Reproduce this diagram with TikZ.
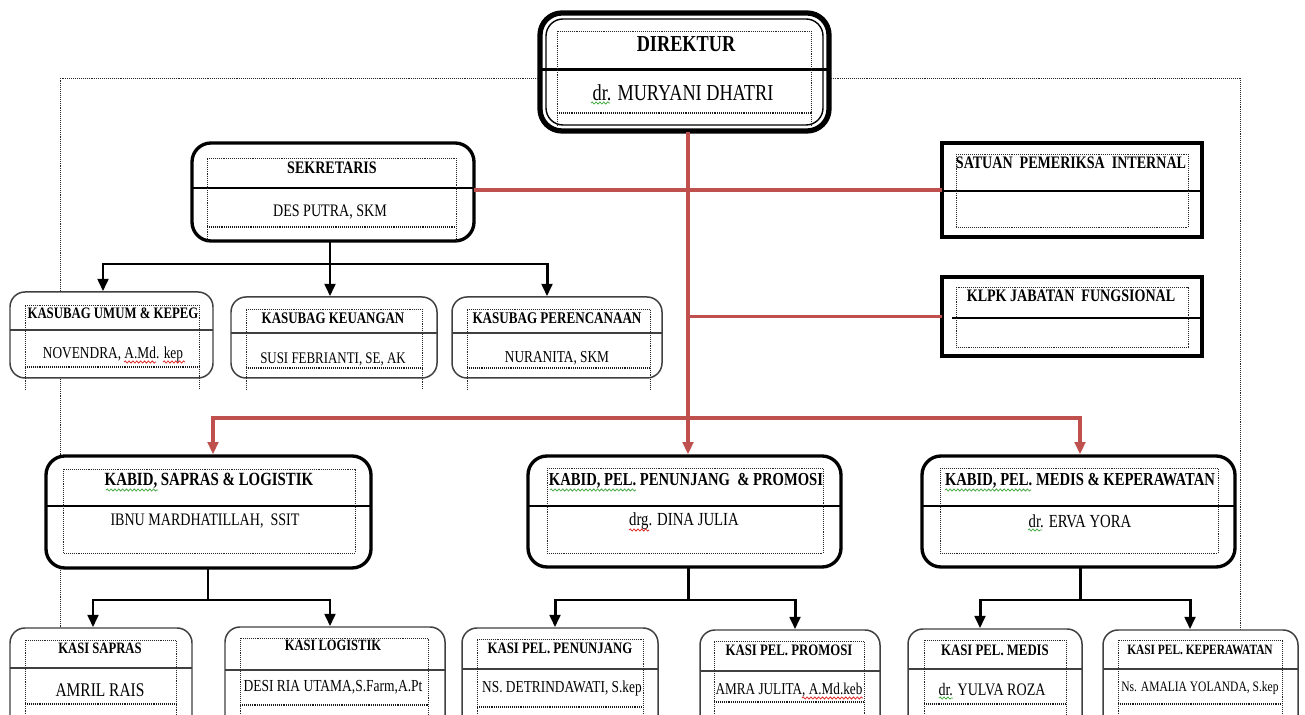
\documentclass[tikz,border=0pt]{standalone}
\usepackage{fontspec}
\setmainfont{Liberation Serif}[FakeStretch=0.8]
\usetikzlibrary{arrows.meta,fit,decorations.pathmorphing}
\definecolor{wred}{RGB}{192,80,77}
\definecolor{sqgreen}{RGB}{70,170,70}
\definecolor{sqred}{RGB}{225,40,40}
\newcommand{\fs}[1]{\fontsize{#1}{#1}\selectfont}
\begin{document}
\begin{tikzpicture}[x=0.02cm,y=-0.02cm,
  thickbox/.style={draw=black, line width=1.9pt, rounded corners=0.38cm, fill=white, inner sep=0pt},
  thinbox/.style={draw=black!75, line width=0.85pt, rounded corners=0.3cm, fill=white, inner sep=0pt},
  sqbox/.style={draw=black, line width=2.1pt, fill=white, inner sep=0pt},
  divthick/.style={draw=black, line width=1.7pt},
  divthin/.style={draw=black!75, line width=0.85pt},
  dotframe/.style={draw=black!85, line width=0.45pt, dash pattern=on 0.45pt off 0.65pt},
  heavydot/.style={draw=black!90, line width=1.4pt, dash pattern=on 0.5pt off 0.6pt},
  redline/.style={draw=wred, line width=1.9pt, line cap=rect},
  blkline/.style={draw=black, line width=1.7pt, line cap=rect},
  tip/.style={-{Triangle[length=7pt,width=6pt]}},
  lbl/.style={inner sep=0pt, anchor=center, text=black},
  ttl/.style={lbl, font=\fs{#1}\bfseries},
  nme/.style={lbl, font=\fs{#1}},
  gsq/.style={draw=sqgreen, line width=0.45pt, decorate, decoration={snake, amplitude=0.6pt, segment length=2.2pt}},
  rsq/.style={draw=sqred, line width=0.45pt, decorate, decoration={snake, amplitude=0.6pt, segment length=2.2pt}},
]
\clip (0,0) rectangle (1305,715);
\fill[white] (0,0) rectangle (1305,715);

% large dotted frame
\draw[dotframe] (60,720) -- (60,78) -- (1240,78) -- (1240,720);

% ---------------- DIREKTUR
\node[fit={(540,13) (829,131)}, draw=black, line width=3pt, rounded corners=0.44cm, fill=white, inner sep=0pt] (dir) {};
\draw[line width=0.8pt, rounded corners=0.34cm] (546,19) rectangle (823,125);
\draw[divthick] (540,70) -- (829,70);
\draw[dotframe] (557,113) -- (557,31) -- (811,31) -- (811,113);
\draw[dotframe] (557,113) -- (557,125) (811,113) -- (811,125);
\draw[heavydot] (557,113) -- (811,113);
\node[ttl=13] (tdir1) at (686,44) {DIREKTUR};
\node[nme=13] (tdir2) at (683,93) {dr. MURYANI DHATRI};
\draw[gsq] (591,103) -- (610,103);

% ---------------- SEKRETARIS
\node[thickbox, fit={(192,143) (474,241)}] (sek) {};
\draw[divthick] (192,188) -- (474,188);
\draw[dotframe] (207,241) -- (207,158) -- (456,158) -- (456,241);
\draw[heavydot] (207,227) -- (456,227);
\node[ttl=10] (tsek1) at (332,168) {SEKRETARIS};
\node[nme=10] (tsek2) at (330,212) {DES PUTRA, SKM};

% ---------------- KASUBAG
\node[thinbox, fit={(10,292) (213,378)}] (ks1) {};
\draw[divthin] (10,330) -- (213,330);
\draw[dotframe] (25,390) -- (25,305) -- (199,305) -- (199,390);
\draw[heavydot] (25,367) -- (199,367);
\node[ttl=9.1] (tks1a) at (113,313) {KASUBAG UMUM \& KEPEG};
\node[nme=9.5] (tks1b) at (113,354) {NOVENDRA, A.Md. kep};
\draw[rsq] (124,362) -- (156,362);
\draw[rsq] (163,362) -- (185,362);

\node[thinbox, fit={(231,297) (437,378)}] (ks2) {};
\draw[divthin] (231,333) -- (437,333);
\draw[dotframe] (246,390) -- (246,309) -- (422,309) -- (422,390);
\draw[heavydot] (246,368) -- (422,368);
\node[ttl=9.2] (tks2a) at (333,318) {KASUBAG KEUANGAN};
\node[nme=9.2] (tks2b) at (333,359) {SUSI FEBRIANTI, SE, AK};

\node[thinbox, fit={(452,297) (662,378)}] (ks3) {};
\draw[divthin] (452,333) -- (662,333);
\draw[dotframe] (467,390) -- (467,309) -- (650,309) -- (650,390);
\draw[heavydot] (467,368) -- (650,368);
\node[ttl=9.3] (tks3a) at (557,318) {KASUBAG PERENCANAAN};
\node[nme=9.5] (tks3b) at (557,358) {NURANITA, SKM};

% ---------------- SATUAN / KLPK
\node[sqbox, fit={(942,143) (1202,237)}] (sat) {};
\draw[divthick] (942,191) -- (1202,191);
\draw[dotframe] (956,154) rectangle (1188,227);
\node[ttl=10] (tsat) at (1071,163) {SATUAN\ \ PEMERIKSA\ \ INTERNAL};

\node[sqbox, fit={(942,277) (1202,356)}] (klpk) {};
\draw[divthick] (952,318) -- (1202,318);
\draw[dotframe] (956,287) rectangle (1188,347);
\node[ttl=10] (tklpk) at (1071,296) {KLPK JABATAN\ \ FUNGSIONAL};

% ---------------- KABID
\node[thickbox, fit={(46,456) (371,568)}] (kabL) {};
\draw[divthick] (46,506) -- (371,506);
\draw[dotframe] (63,469) rectangle (355,553);
\node[ttl=10.6] (tkl1) at (209,481) {KABID, SAPRAS \& LOGISTIK};
\node[nme=10] (tkl2) at (205,521) {IBNU MARDHATILLAH,\ \ SSIT};
\draw[gsq] (106,490) -- (158,490);

\node[thickbox, fit={(528,456) (841,567)}] (kabM) {};
\draw[divthick] (528,506) -- (841,506);
\draw[dotframe] (547,468) rectangle (823,553);
\node[ttl=10.4] (tkm1) at (686,481) {KABID, PEL. PENUNJANG\ \ \& PROMOSI};
\node[nme=10.5] (tkm2) at (684,521) {drg. DINA JULIA};
\draw[gsq] (550,490) -- (636,490);
\draw[rsq] (629,530) -- (649,530);

\node[thickbox, fit={(922,456) (1235,567)}] (kabR) {};
\draw[divthick] (922,506) -- (1235,506);
\draw[dotframe] (940,468) rectangle (1218,553);
\node[ttl=10.4] (tkr1) at (1080,481) {KABID, PEL. MEDIS \& KEPERAWATAN};
\node[nme=10.5] (tkr2) at (1080,521) {dr. ERVA YORA};
\draw[gsq] (945,490) -- (1031,490);
\draw[gsq] (1028,530) -- (1042,530);

% ---------------- KASI
\node[thinbox, fit={(10,628) (192,745)}] (k1) {};
\draw[divthin] (10,668) -- (192,668);
\draw[dotframe] (25,720) -- (25,640) -- (176,640) -- (176,720);
\draw[heavydot] (25,704) -- (176,704);
\node[ttl=9] (tk1a) at (100,648) {KASI SAPRAS};
\node[nme=11] (tk1b) at (100,690) {AMRIL RAIS};

\node[thinbox, fit={(225,627) (445,745)}] (k2) {};
\draw[divthin] (225,670) -- (445,670);
\draw[dotframe] (240,720) -- (240,638) -- (428,638) -- (428,720);
\draw[heavydot] (240,705) -- (428,705);
\node[ttl=8.9] (tk2a) at (333,645) {KASI LOGISTIK};
\node[nme=9.6] (tk2b) at (333,687) {DESI RIA UTAMA,S.Farm,A.Pt};

\node[thinbox, fit={(462,628) (658,745)}] (k3) {};
\draw[divthin] (462,669) -- (658,669);
\draw[dotframe] (477,720) -- (477,639) -- (643,639) -- (643,720);
\draw[heavydot] (477,707) -- (643,707);
\node[ttl=9.1] (tk3a) at (560,648) {KASI PEL. PENUNJANG};
\node[nme=9.5] (tk3b) at (562,688) {NS. DETRINDAWATI, S.kep};

\node[thinbox, fit={(700,630) (880,745)}] (k4) {};
\draw[divthin] (700,671) -- (880,671);
\draw[dotframe] (714,720) -- (714,641) -- (864,641) -- (864,720);
\draw[heavydot] (714,702) -- (864,702);
\node[ttl=9.1] (tk4a) at (789,650) {KASI PEL. PROMOSI};
\node[nme=9.4] (tk4b) at (789,690) {AMRA JULITA, A.Md.keb};
\draw[rsq] (802,698) -- (863,698);

\node[thinbox, fit={(908,629) (1082,745)}] (k5) {};
\draw[divthin] (908,669) -- (1082,669);
\draw[dotframe] (924,720) -- (924,640) -- (1066,640) -- (1066,720);
\draw[heavydot] (924,704) -- (1066,704);
\node[ttl=9.1] (tk5a) at (995,650) {KASI PEL. MEDIS};
\node[nme=10] (tk5b) at (992,690) {dr. YULVA ROZA};
\draw[gsq] (939,698) -- (953,698);

\node[thinbox, fit={(1103,630) (1298,745)}] (k6) {};
\draw[divthin] (1103,669) -- (1298,669);
\draw[dotframe] (1118,720) -- (1118,640) -- (1282,640) -- (1282,720);
\draw[heavydot] (1118,704) -- (1282,704);
\node[ttl=8.1] (tk6a) at (1200,650) {KASI PEL. KEPERAWATAN};
\node[nme=8.2] (tk6b) at (1200,688) {Ns. AMALIA YOLANDA, S.kep};

% ---------------- red connectors
\coordinate (jT) at (688,418);
\coordinate (jL) at (213,418);
\coordinate (jR) at (1080,418);
\draw[redline] (sek.east |- sat.west) -- (sat.west);
\draw[redline] (klpk.west -| jT) -- (klpk.west);
\draw[redline] (jL) -- (jR);
\draw[redline, tip] (dir.south -| jT) -- (kabM.north -| jT);
\draw[redline, tip] (jL) -- (jL |- kabL.north);
\draw[redline, tip] (jR) -- (jR |- kabR.north);

% ---------------- black connectors
\coordinate (s1) at (103,264);
\coordinate (s2) at (330,264);
\coordinate (s3) at (547,264);
\draw[blkline] (s2 |- sek.south) -- (s2);
\draw[blkline] (s1) -- (s3);
\draw[blkline, tip] (s1) -- (s1 |- ks1.north);
\draw[blkline, tip] (s2) -- (s2 |- ks2.north);
\draw[blkline, tip] (s3) -- (s3 |- ks3.north);

\coordinate (c0) at (208,600);
\coordinate (c1) at (93,600);
\coordinate (c2) at (330,600);
\draw[blkline] (c0 |- kabL.south) -- (c0);
\draw[blkline] (c1) -- (c2);
\draw[blkline, tip] (c1) -- (c1 |- k1.north);
\draw[blkline, tip] (c2) -- (c2 |- k2.north);

\coordinate (m0) at (688,600);
\coordinate (m1) at (555,600);
\coordinate (m2) at (795,600);
\draw[blkline] (m0 |- kabM.south) -- (m0);
\draw[blkline] (m1) -- (m2);
\draw[blkline, tip] (m1) -- (m1 |- k3.north);
\draw[blkline, tip] (m2) -- (m2 |- k4.north);

\coordinate (r0) at (1080,600);
\coordinate (r1) at (980,600);
\coordinate (r2) at (1190,600);
\draw[blkline] (r0 |- kabR.south) -- (r0);
\draw[blkline] (r1) -- (r2);
\draw[blkline, tip] (r1) -- (r1 |- k5.north);
\draw[blkline, tip] (r2) -- (r2 |- k6.north);
\end{tikzpicture}
\end{document}
